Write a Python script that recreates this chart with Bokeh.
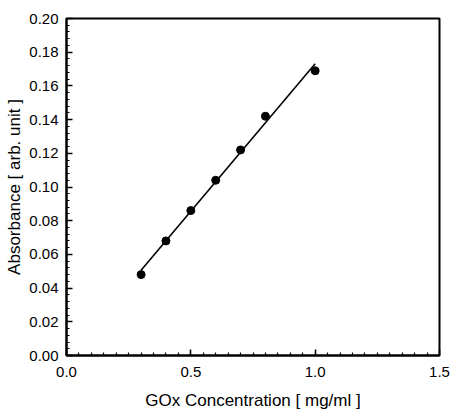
import numpy as np
from bokeh.plotting import figure
from bokeh.models import FixedTicker, PrintfTickFormatter, Range1d
from bokeh.embed import file_html
from bokeh.resources import INLINE

# Data
conc = [0.3, 0.4, 0.5, 0.6, 0.7, 0.8, 1.0]
absorb = [0.048, 0.068, 0.086, 0.104, 0.122, 0.142, 0.169]

x_ticks = [0.0, 0.5, 1.0, 1.5]
y_ticks = [0.00, 0.02, 0.04, 0.06, 0.08, 0.10, 0.12, 0.14, 0.16, 0.18, 0.20]

x_label = "GOx Concentration [ mg/ml ]"
y_label = "Absorbance [ arb. unit ]"

# Linear fit through the data
slope, intercept = np.polyfit(conc, absorb, 1)
fit_x = [min(conc), max(conc)]
fit_y = [slope * v + intercept for v in fit_x]

FONT = "Liberation Sans"

p = figure(width=450, height=412, output_backend="svg", toolbar_location=None,
           x_range=Range1d(0, 1.5), y_range=Range1d(0, 0.20),
           min_border_left=66, min_border_right=11, min_border_top=18, min_border_bottom=55)

p.grid.visible = False
p.background_fill_color = "white"
p.border_fill_color = "white"
p.outline_line_color = "black"
p.outline_line_width = 2
p.outline_line_alpha = 1

p.line(fit_x, fit_y, line_color="black", line_width=1.6)
p.scatter(conc, absorb, size=8, fill_color="black", line_color="black")

x_minor = [round(v, 4) for v in np.arange(0, 1.5001, 0.05)]
y_minor = [round(v, 4) for v in np.arange(0, 0.2001, 0.004)]

p.xaxis.ticker = FixedTicker(ticks=x_ticks, minor_ticks=x_minor)
p.yaxis.ticker = FixedTicker(ticks=y_ticks, minor_ticks=y_minor)
p.xaxis.formatter = PrintfTickFormatter(format="%.1f")
p.yaxis.formatter = PrintfTickFormatter(format="%.2f")

for ax in (p.xaxis, p.yaxis):
    ax.axis_line_width = 2
    ax.axis_line_color = "black"
    ax.major_tick_in = 6
    ax.major_tick_out = 0
    ax.minor_tick_in = 3
    ax.minor_tick_out = 0
    ax.major_tick_line_width = 1.5
    ax.minor_tick_line_width = 1.2
    ax.major_tick_line_color = "black"
    ax.minor_tick_line_color = "black"
    ax.major_label_text_font = FONT
    ax.major_label_text_font_size = "15px"
    ax.major_label_text_color = "black"
    ax.axis_label_text_font = FONT
    ax.axis_label_text_font_size = "17px"
    ax.axis_label_text_font_style = "normal"
    ax.axis_label_text_color = "black"

p.xaxis.major_label_standoff = 11
p.yaxis.major_label_standoff = 8
p.xaxis.axis_label = x_label
p.yaxis.axis_label = y_label
p.xaxis.axis_label_standoff = 11
p.yaxis.axis_label_standoff = 2

open("out.html", "w").write(file_html(p, INLINE))
